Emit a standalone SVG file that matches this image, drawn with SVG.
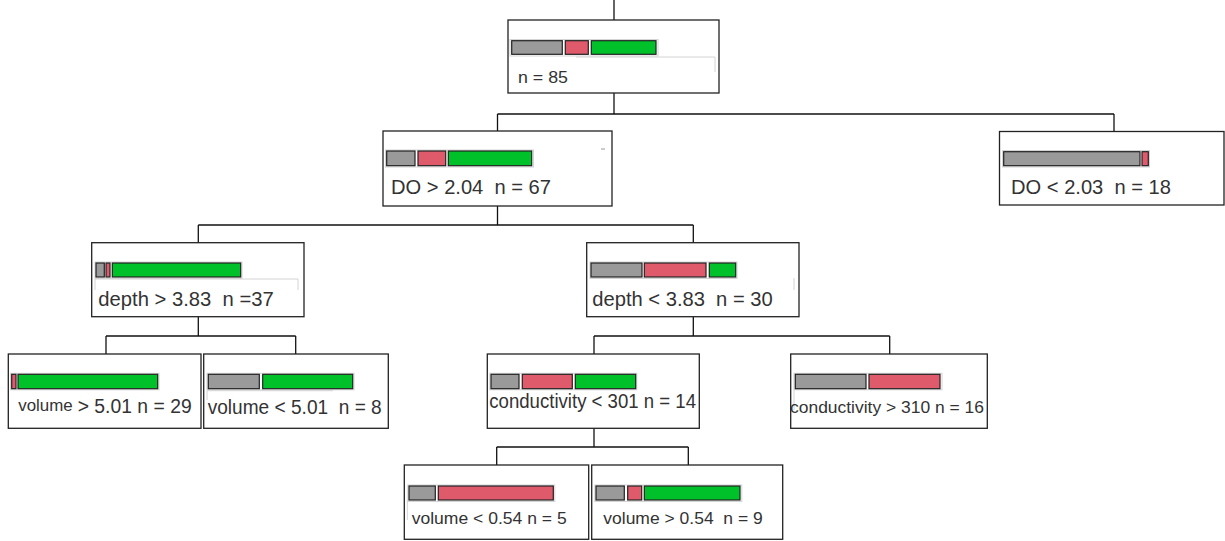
<svg xmlns="http://www.w3.org/2000/svg" width="1225" height="541" viewBox="0 0 1225 541">
<style>
.box{fill:#fff;stroke:#222;stroke-width:1.3}
.g{fill:#9a9a9a;stroke:#222;stroke-width:1.2}
.r{fill:#df5a6b;stroke:#222;stroke-width:1.2}
.v{fill:#00c12a;stroke:#222;stroke-width:1.2}
.halo{fill:none;stroke:#d4d4d4;stroke-width:1}
.faint{fill:none;stroke:#d4d4d4;stroke-width:1}
.t{font-family:"Liberation Sans",Arial,sans-serif;fill:#333}
.con line{stroke:#111;stroke-width:1.3}
</style>
<rect width="1225" height="541" fill="#fff"/>
<g class="con" id="connectors">
<line x1="614" y1="0" x2="614" y2="20"/>
<line x1="614" y1="93" x2="614" y2="114"/>
<line x1="497.5" y1="114" x2="1114" y2="114"/>
<line x1="497.5" y1="114" x2="497.5" y2="131"/>
<line x1="1114" y1="114" x2="1114" y2="131"/>
<line x1="497.5" y1="206" x2="497.5" y2="225"/>
<line x1="198.3" y1="225" x2="693.3" y2="225"/>
<line x1="198.3" y1="225" x2="198.3" y2="243"/>
<line x1="693.3" y1="225" x2="693.3" y2="243"/>
<line x1="198.3" y1="317" x2="198.3" y2="336"/>
<line x1="106" y1="336" x2="295.7" y2="336"/>
<line x1="106" y1="336" x2="106" y2="354"/>
<line x1="295.7" y1="336" x2="295.7" y2="354"/>
<line x1="693.3" y1="317" x2="693.3" y2="336"/>
<line x1="594" y1="336" x2="889.7" y2="336"/>
<line x1="594" y1="336" x2="594" y2="354"/>
<line x1="889.7" y1="336" x2="889.7" y2="354"/>
<line x1="594" y1="428.3" x2="594" y2="447"/>
<line x1="496.7" y1="447" x2="688.3" y2="447"/>
<line x1="496.7" y1="447" x2="496.7" y2="465"/>
<line x1="688.3" y1="447" x2="688.3" y2="465"/>
</g>
<g id="node-root">
<rect class="box" x="508" y="20" width="211" height="73"/>
<path class="faint" d="M576 57 H715 V72"/>
<rect class="halo" x="510" y="39.5" width="148" height="16.5"/>
<rect class="g" x="511.7" y="40.7" width="50.6" height="13.6"/>
<rect class="r" x="565.3" y="40.7" width="23" height="13.6"/>
<rect class="v" x="591.3" y="40.7" width="64.7" height="13.6"/>
<text class="t" x="518" y="83" font-size="17" textLength="50" lengthAdjust="spacingAndGlyphs">n = 85</text>
</g>
<g id="node-do-high">
<rect class="box" x="383" y="131" width="229" height="75"/>
<line class="faint" x1="601" y1="149" x2="605" y2="149" style="stroke:#999"/>
<rect class="halo" x="385.5" y="150" width="148" height="17"/>
<rect class="g" x="386.7" y="151" width="28.3" height="14.7"/>
<rect class="r" x="418" y="151" width="27.7" height="14.7"/>
<rect class="v" x="448.3" y="151" width="83.4" height="14.7"/>
<text class="t" x="391" y="194" font-size="20" textLength="160" lengthAdjust="spacingAndGlyphs" xml:space="preserve">DO &gt; 2.04  n = 67</text>
</g>
<g id="node-do-low">
<rect class="box" x="999.5" y="131.5" width="224.5" height="73.5"/>
<rect class="halo" x="1002.5" y="150.5" width="147" height="16.5"/>
<rect class="g" x="1003.7" y="151.7" width="136.3" height="14"/>
<rect class="r" x="1142" y="151.7" width="6.3" height="14"/>
<text class="t" x="1011" y="194" font-size="20" textLength="160" lengthAdjust="spacingAndGlyphs" xml:space="preserve">DO &lt; 2.03  n = 18</text>
</g>
<g id="node-depth-high">
<rect class="box" x="91.7" y="242.7" width="212.3" height="74"/>
<path class="faint" d="M95 290 V279 H298 V290"/>
<rect class="halo" x="95" y="262" width="147" height="16.5"/>
<rect class="g" x="96" y="263" width="8.3" height="14"/>
<rect class="r" x="106" y="263" width="4" height="14"/>
<rect class="v" x="112.3" y="263" width="128.4" height="14"/>
<text class="t" x="98.3" y="306.3" font-size="20" textLength="175.4" lengthAdjust="spacingAndGlyphs" xml:space="preserve">depth &gt; 3.83  n =37</text>
</g>
<g id="node-depth-low">
<rect class="box" x="586.7" y="242.7" width="212.3" height="74"/>
<line class="faint" x1="794" y1="278" x2="794" y2="290"/>
<rect class="halo" x="590" y="262" width="147" height="16.5"/>
<rect class="g" x="591" y="263" width="51" height="14"/>
<rect class="r" x="644.3" y="263" width="61.7" height="14"/>
<rect class="v" x="709.3" y="263" width="26.4" height="14"/>
<text class="t" x="592.3" y="306.3" font-size="20" textLength="180.4" lengthAdjust="spacingAndGlyphs" xml:space="preserve">depth &lt; 3.83  n = 30</text>
</g>
<g id="node-volume-high">
<rect class="box" x="8.3" y="354" width="192.7" height="74.3"/>
<rect class="halo" x="10.5" y="373.3" width="148.5" height="16.5"/>
<rect class="r" x="11.7" y="374.3" width="4.3" height="14.4"/>
<rect class="v" x="18" y="374.3" width="139.7" height="14.4"/>
<text class="t" x="18.3" y="411" font-size="16" textLength="54.4" lengthAdjust="spacingAndGlyphs">volume</text>
<text class="t" x="77.7" y="413.3" font-size="20" textLength="114" lengthAdjust="spacingAndGlyphs">&gt; 5.01 n = 29</text>
</g>
<g id="node-volume-low">
<rect class="box" x="203.7" y="354" width="184.6" height="74.3"/>
<path class="faint" d="M207 400 V390.7 H333"/>
<rect class="halo" x="207" y="373.3" width="147" height="16.5"/>
<rect class="g" x="208.3" y="374.3" width="51" height="14.4"/>
<rect class="v" x="262.7" y="374.3" width="90" height="14.4"/>
<text class="t" x="207.7" y="414" font-size="20" textLength="174" lengthAdjust="spacingAndGlyphs" xml:space="preserve">volume &lt; 5.01  n = 8</text>
</g>
<g id="node-cond-low">
<rect class="box" x="487.3" y="354" width="212" height="74.3"/>
<rect class="halo" x="489.8" y="373.3" width="147" height="16.5"/>
<rect class="g" x="491" y="374.3" width="28" height="14.4"/>
<rect class="r" x="522.3" y="374.3" width="50" height="14.4"/>
<rect class="v" x="575.3" y="374.3" width="60.4" height="14.4"/>
<text class="t" x="489.3" y="408.3" font-size="20" textLength="206.7" lengthAdjust="spacingAndGlyphs">conductivity &lt; 301 n = 14</text>
</g>
<g id="node-cond-high">
<rect class="box" x="790.7" y="354" width="196.6" height="74.3"/>
<line class="faint" x1="794" y1="390" x2="794" y2="410"/>
<rect class="halo" x="794" y="373.3" width="148" height="16.5"/>
<rect class="g" x="795.3" y="374.3" width="70.7" height="14.4"/>
<rect class="r" x="869" y="374.3" width="71" height="14.4"/>
<text class="t" x="790" y="413.3" font-size="17" textLength="194" lengthAdjust="spacingAndGlyphs">conductivity &gt; 310 n = 16</text>
</g>
<g id="node-vol2-low">
<rect class="box" x="404.3" y="465" width="184.4" height="74.3"/>
<line class="faint" x1="407.3" y1="500" x2="407.3" y2="520"/>
<rect class="halo" x="407.8" y="485" width="147" height="16.5"/>
<rect class="g" x="409" y="486" width="26.3" height="14"/>
<rect class="r" x="438.3" y="486" width="115" height="14"/>
<text class="t" x="411.7" y="524" font-size="17" textLength="155" lengthAdjust="spacingAndGlyphs">volume &lt; 0.54 n = 5</text>
</g>
<g id="node-vol2-high">
<rect class="box" x="591.7" y="465" width="191" height="74.3"/>
<rect class="halo" x="594.8" y="485" width="147" height="16.5"/>
<rect class="g" x="596" y="486" width="28.3" height="14"/>
<rect class="r" x="627.7" y="486" width="14" height="14"/>
<rect class="v" x="644.3" y="486" width="95.7" height="14"/>
<text class="t" x="603.3" y="524" font-size="17" textLength="159.4" lengthAdjust="spacingAndGlyphs" xml:space="preserve">volume &gt; 0.54  n = 9</text>
</g>
</svg>
